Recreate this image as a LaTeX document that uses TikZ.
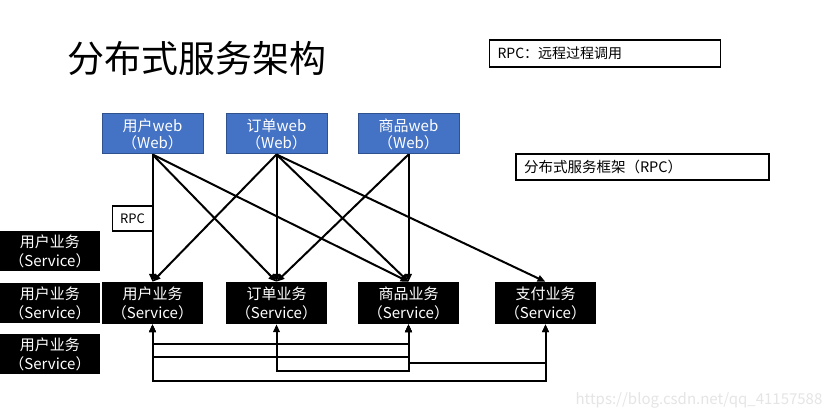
\documentclass[tikz,border=0pt]{standalone}
\usepackage{fontspec}
\setmainfont{Noto Sans CJK SC}
\usetikzlibrary{arrows.meta}
\definecolor{webblue}{HTML}{4472C4}
\definecolor{webedge}{HTML}{2F528F}
\begin{document}
\begin{tikzpicture}[x=1pt,y=-1pt,
  webbox/.style={draw=webedge,line width=1pt,fill=webblue,text=white,minimum width=101pt,minimum height=40pt,inner sep=0pt,align=center,font=\fontsize{15}{17}\selectfont},
  svcbox/.style={fill=black,text=white,minimum width=101pt,minimum height=42pt,inner sep=0pt,align=center,font=\fontsize{15}{19}\selectfont},
  leftbox/.style={svcbox,minimum width=100pt,minimum height=40pt},
  link/.style={line width=2pt,-{Triangle[length=8pt,width=6.5pt]}},
  blink/.style={line width=2pt,{Triangle[length=8pt,width=6.5pt]}-{Triangle[length=8pt,width=6.5pt]}},
  framebox/.style={draw=black,line width=1.8pt,inner ysep=0pt,inner xsep=8pt,align=left}
]
\useasboundingbox (0,0) rectangle (831,419);
\fill[white] (0,0) rectangle (831,419);

\node (title) at (197,58) {\fontsize{37}{37}\selectfont 分布式服务架构};
\node[framebox,minimum width=231pt,minimum height=27pt,text width=215pt,font=\fontsize{14}{14}\selectfont] (legend) at (605,53.5) {RPC：远程过程调用};
\node[framebox,minimum width=253pt,minimum height=26pt,text width=237pt,font=\fontsize{14.5}{14.5}\selectfont] (frame) at (642.5,167) {分布式服务框架（RPC）};

\node[webbox] (uw) at (152.5,134) {用户web\\（Web）};
\node[webbox] (ow) at (276.5,134) {订单web\\（Web）};
\node[webbox] (pw) at (408.5,134) {商品web\\（Web）};

\node[svcbox] (us) at (152.5,303) {用户业务\\（Service）};
\node[svcbox] (os) at (276.5,303) {订单业务\\（Service）};
\node[svcbox] (ps) at (408.5,303) {商品业务\\（Service）};
\node[svcbox] (zs) at (545.5,303) {支付业务\\（Service）};

\node[leftbox] (l1) at (50,251.5) {用户业务\\（Service）};
\node[leftbox] (l2) at (50,303) {用户业务\\（Service）};
\node[leftbox] (l3) at (50,354.5) {用户业务\\（Service）};

\node[draw=black,line width=1.5pt,minimum width=40pt,minimum height=25pt,inner sep=0pt,font=\fontsize{13}{13}\selectfont] (rpc) at (132.5,218.5) {RPC};

\draw[link] (uw.south) -- (us.north);
\draw[link] (uw.south) -- (os.north);
\draw[link] (uw.south) -- (ps.north);
\draw[link] (ow.south) -- (us.north);
\draw[link] (ow.south) -- (os.north);
\draw[link] (ow.south) -- (ps.north);
\draw[link] (ow.south) -- (zs.north);
\draw[link] (pw.south) -- (os.north);
\draw[link] (pw.south) -- (ps.north);

\draw[blink] (us.south) -- ++(0,20) -| (ps.south);
\draw[blink] (us.south) -- ++(0,33) -| (ps.south);
\draw[blink] (os.south) -- ++(0,47) -| (ps.south);
\draw[blink] (ps.south) -- ++(0,39) -| (zs.south);
\draw[blink] (us.south) -- ++(0,57) -| (zs.south);

\node[text=black!10,font=\fontsize{15}{15}\selectfont] (wm) at (699,400) {https://blog.csdn.net/qq\_41157588};
\end{tikzpicture}
\end{document}
